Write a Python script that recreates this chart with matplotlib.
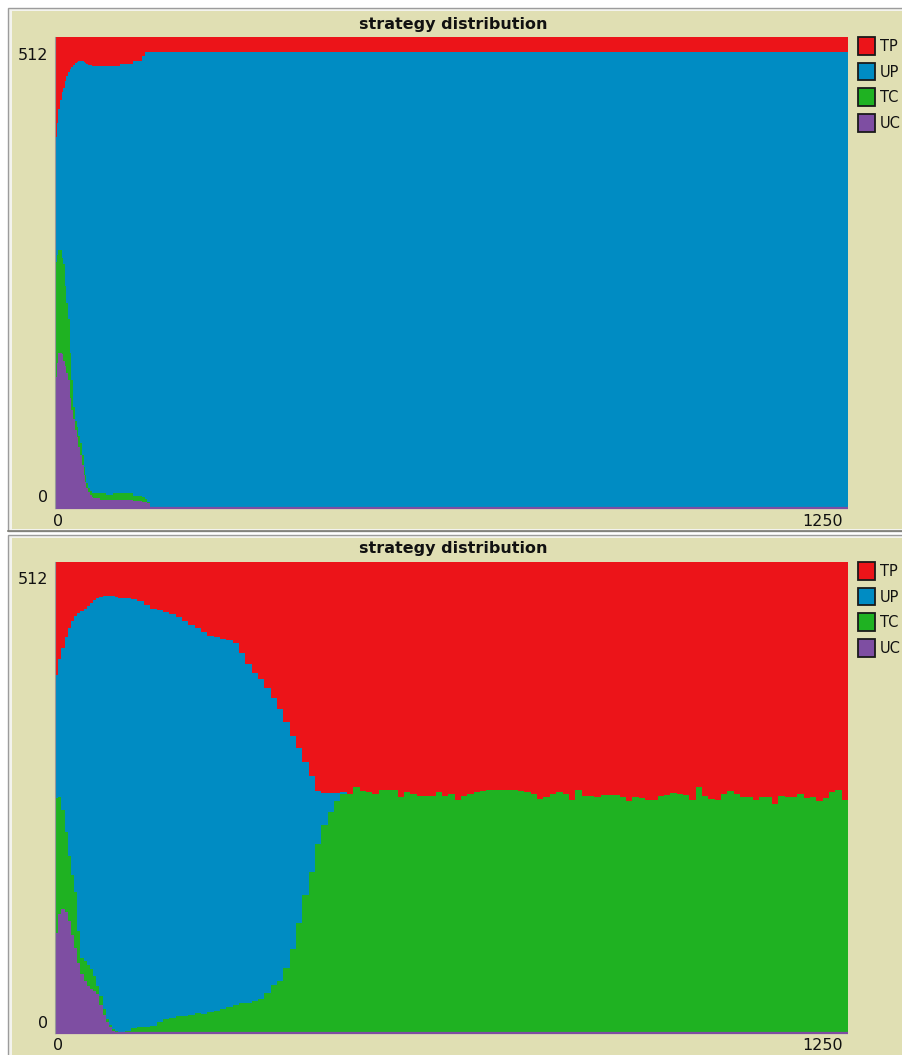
import matplotlib
matplotlib.use("Agg")
import matplotlib.pyplot as plt
import numpy as np
from matplotlib.patches import Rectangle

# ---------------- data ----------------
title_text = "strategy distribution"
strategies = ["TP", "UP", "TC", "UC"]
strategy_colors = ["#ec1419", "#008cc3", "#1fb222", "#7e4ea2"]
y_max = 512
x_max = 1250
y_tick_labels = ["512", "0"]
x_tick_labels = ["0", "1250"]

# top chart (counts per strategy at each tick)
ticks_top = [0, 3, 5, 8, 11, 13, 16, 18, 21, 24, 26, 29, 32, 34, 37, 39, 42, 45, 47, 49,
             52, 55, 58, 60, 71, 81, 92, 102, 108, 123, 137, 142, 145, 150, 1250]
uc_top = [142, 158, 169, 168, 167, 160, 154, 147, 139, 120, 107, 97, 85, 77, 66, 58, 47, 36, 28, 22,
          17, 14, 12, 11, 9, 9, 9, 9, 9, 8, 7, 6, 5, 0, 0]
tc_top = [125, 117, 111, 113, 105, 105, 87, 76, 66, 49, 32, 13, 10, 11, 12, 13, 11, 9, 8, 5,
          5, 4, 4, 5, 7, 5, 7, 7, 7, 5, 5, 4, 2, 0, 0]
up_top = [136, 144, 154, 163, 180, 192, 223, 247, 269, 308, 340, 372, 389, 397, 408, 415, 428, 440, 448, 456,
          460, 464, 465, 465, 464, 466, 465, 467, 467, 473, 479, 486, 489, 496, 496]
tp_top = [109, 93, 78, 68, 60, 55, 48, 42, 38, 35, 33, 30, 28, 27, 26, 26, 26, 27, 28, 29,
          30, 30, 31, 31, 32, 32, 31, 29, 29, 26, 21, 16, 16, 16, 16]

# bottom chart
ticks_bot = list(range(0, 100, 5)) + list(range(100, 1251, 10))
uc_bot = ([109, 129, 135, 132, 122, 107, 92, 76, 64, 56, 51, 48, 46, 42, 30, 20, 12, 6, 2, 0]
          + [0, 0, 0, 0, 0, 0, 0, 0, 0, 0, 0, 0, 0, 0, 0, 0, 0, 0, 0, 0,
             0, 0, 0, 0, 0, 0, 0, 0, 0, 0, 0, 0, 0, 0, 0, 0,
             0, 0, 0, 0, 0, 0, 0, 0, 0, 0, 0, 0, 0, 0, 0, 0, 0, 0, 0, 0,
             0, 0, 0, 0, 0, 0, 0, 0, 0, 0, 0, 0, 0, 0, 0, 0, 0, 0, 0, 0,
             0, 0, 0, 0, 0, 0, 0, 0, 0, 0, 0, 0, 0, 0, 0, 0, 0, 0, 0, 0,
             0, 0, 0, 0, 0, 0, 0, 0, 0, 0, 0, 0, 0, 0, 0, 0, 0, 0, 0, 0])
tc_bot = ([147, 128, 107, 86, 70, 65, 61, 35, 18, 22, 23, 22, 16, 9, 10, 6, 3, 3, 2, 2]
          + [1, 2, 5, 6, 7, 8, 12, 15, 16, 18, 19, 20, 22, 21, 23, 24, 26, 28, 30, 33,
             33, 35, 37, 43, 52, 57, 71, 91, 120, 150, 175, 205, 226, 240, 252, 260]
          + [260, 267, 263, 262, 260, 264, 264, 264, 257, 262, 260, 258, 258, 258, 262, 258, 260, 253, 258, 260,
             262, 263, 264, 264, 264, 264, 264, 263, 262, 260, 254, 257, 260, 262, 260, 253, 264, 258, 258, 257,
             259, 259, 259, 257, 252, 257, 256, 253, 253, 258, 259, 261, 260, 259, 253, 267, 258, 254, 253, 260,
             263, 260, 257, 257, 253, 257, 257, 249, 258, 257, 257, 260, 256, 257, 252, 256, 262, 264, 253, 249])
up_bot = ([133, 150, 176, 212, 248, 276, 300, 346, 377, 383, 390, 397, 409, 422, 434, 449, 460, 466, 471, 472]
          + [472, 471, 467, 464, 458, 453, 448, 443, 440, 434, 429, 424, 418, 415, 409, 406, 402, 399, 394, 380,
             368, 356, 348, 332, 312, 295, 267, 232, 190, 145, 104, 58, 35, 21, 9, 2]
          + [0, 0, 0, 0, 0, 0, 0, 0, 0, 0, 0, 0, 0, 0, 0, 0, 0, 0, 0, 0,
             0, 0, 0, 0, 0, 0, 0, 0, 0, 0, 0, 0, 0, 0, 0, 0, 0, 0, 0, 0,
             0, 0, 0, 0, 0, 0, 0, 0, 0, 0, 0, 0, 0, 0, 0, 0, 0, 0, 0, 0,
             0, 0, 0, 0, 0, 0, 0, 0, 0, 0, 0, 0, 0, 0, 0, 0, 0, 0, 0, 0])
tp_bot = ([123, 105, 94, 82, 72, 64, 59, 55, 53, 51, 48, 45, 41, 39, 38, 37, 37, 37, 37, 38]
          + [39, 39, 40, 42, 47, 51, 52, 54, 56, 60, 64, 68, 72, 76, 80, 82, 84, 85, 88, 99,
             111, 121, 127, 137, 148, 160, 174, 189, 202, 217, 233, 249, 251, 251, 251, 250]
          + [252, 245, 249, 250, 252, 248, 248, 248, 255, 250, 252, 254, 254, 254, 250, 254, 252, 259, 254, 252,
             250, 249, 248, 248, 248, 248, 248, 249, 250, 252, 258, 255, 252, 250, 252, 259, 248, 254, 254, 255,
             253, 253, 253, 255, 260, 255, 256, 259, 259, 254, 253, 251, 252, 253, 259, 245, 254, 258, 259, 252,
             249, 252, 255, 255, 259, 255, 255, 263, 254, 255, 255, 252, 256, 255, 260, 256, 250, 248, 259, 263])

# ---------------- figure ----------------
W, H = 902, 1055
fig = plt.figure(figsize=(W / 100, H / 100), dpi=100, facecolor="white")
bg = fig.add_axes([0, 0, 1, 1])
bg.set_xlim(0, W)
bg.set_ylim(H, 0)
bg.axis("off")

beige = "#e0dfb3"
frame_gray = "#9c9c9c"


def panel(y0, y1):
    bg.add_patch(Rectangle((8, y0), W, y1 - y0, facecolor="#f3f3ee", edgecolor=frame_gray, lw=1.0))
    bg.add_patch(Rectangle((11.5, y0 + 3), W, y1 - y0 - 5, facecolor=beige, edgecolor="none"))


panel(8, 531)
panel(535, 1060)
bg.plot([8, W], [531, 531], color="#7d7d76", lw=1.2)


def chart(top_px, ticks, uc, tc, up, tp):
    left, right = 55, 848
    bottom_px = top_px + 471
    ax = fig.add_axes([left / W, 1 - bottom_px / H, (right - left) / W, (bottom_px - top_px) / H])
    x = np.array(ticks, dtype=float)
    layers = [np.array(uc), np.array(tc), np.array(up), np.array(tp)]
    cum = np.cumsum(layers, axis=0)
    # paint from the top layer down so no seams appear
    for idx in [3, 2, 1, 0]:
        ax.fill_between(x, 0, cum[idx], step="post", color=strategy_colors[3 - idx], lw=0)
    ax.plot([0, x_max], [0, 0], color=strategy_colors[3], lw=1.6, clip_on=False, solid_capstyle="butt")
    ax.set_xlim(0, x_max)
    ax.set_ylim(0, y_max)
    ax.set_xticks([])
    ax.set_yticks([])
    for s in ["top", "right", "bottom"]:
        ax.spines[s].set_visible(False)
    ax.spines["left"].set_color("#9a9a9a")
    ax.spines["left"].set_linewidth(0.8)
    ax.set_facecolor(beige)

    # title
    bg.text(453, top_px - 13, title_text, ha="center", va="center", fontsize=11.5,
            fontweight="bold", color="#111111")
    # y labels
    bg.text(48.5, top_px + 18, y_tick_labels[0], ha="right", va="center", fontsize=11.5, color="#111111")
    bg.text(48.5, bottom_px - 10, y_tick_labels[1], ha="right", va="center", fontsize=11.5, color="#111111")
    # x labels
    bg.text(58, bottom_px + 13, x_tick_labels[0], ha="center", va="center", fontsize=11.5, color="#111111")
    bg.text(843, bottom_px + 13, x_tick_labels[1], ha="right", va="center", fontsize=11.5, color="#111111")
    # legend
    for i, (name, col) in enumerate(zip(strategies, strategy_colors)):
        yy = top_px + i * 25.7
        bg.add_patch(Rectangle((857.5, yy), 17.5, 17.5, facecolor=col, edgecolor="#1a1a1a", lw=1.3))
        bg.text(880, yy + 9.5, name, ha="left", va="center", fontsize=10.5, color="#111111")
    return ax


chart(37, ticks_top, uc_top, tc_top, up_top, tp_top)
chart(562, ticks_bot, uc_bot, tc_bot, up_bot, tp_bot)

fig.savefig("out.png", dpi=100, facecolor="white")
